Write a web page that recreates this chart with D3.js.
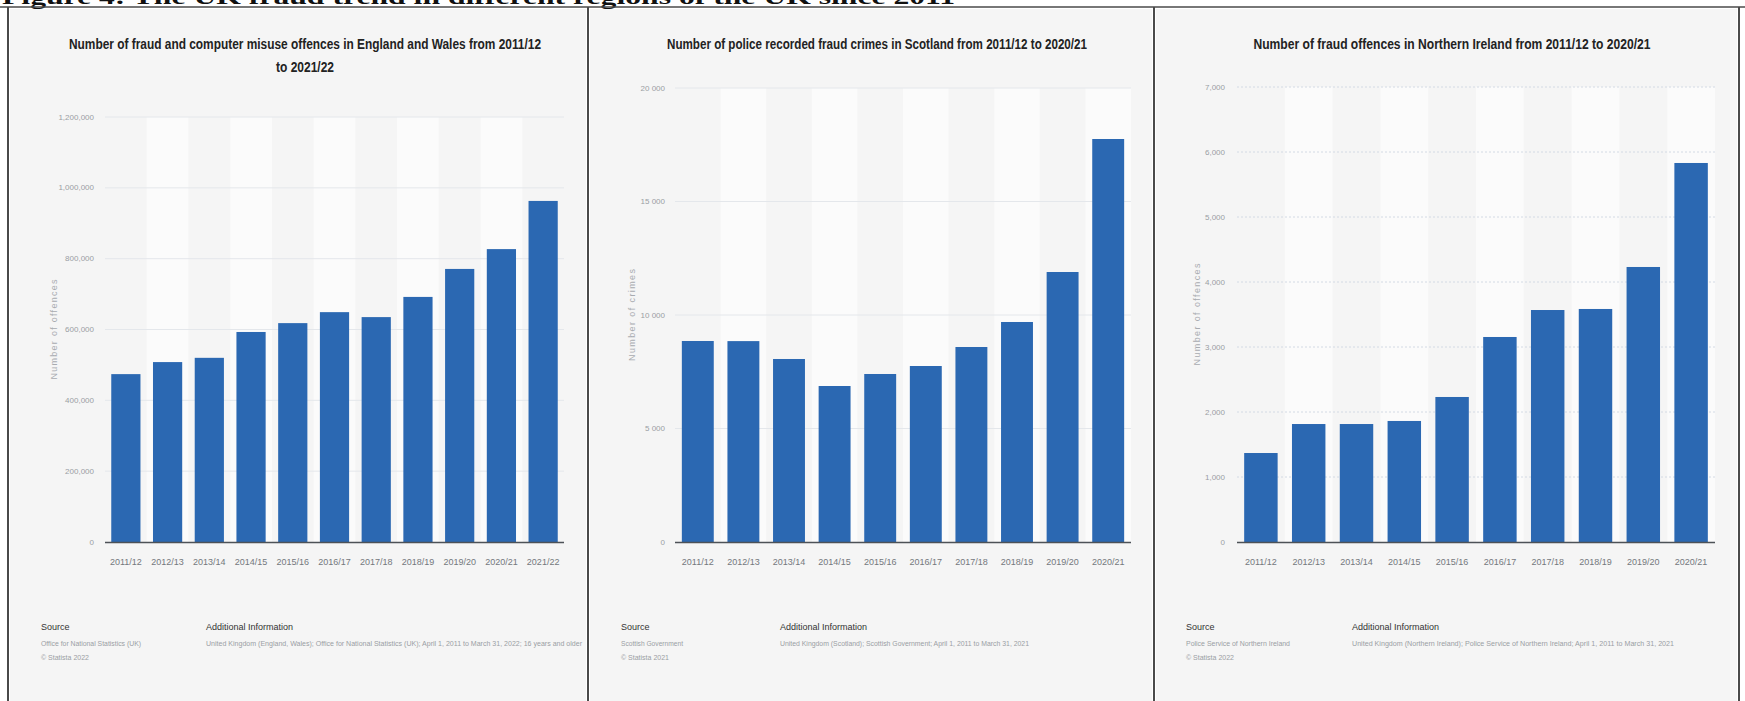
<!DOCTYPE html>
<html><head><meta charset="utf-8">
<script src="https://cdn.jsdelivr.net/npm/d3@7"></script>
<style>
html,body{margin:0;padding:0;background:#fff;overflow:hidden}
svg{display:block}
text{font-family:"Liberation Sans Narrow","Arial Narrow","Liberation Sans",Arial,sans-serif}
</style></head><body>
<svg id="c" width="1745" height="701"></svg>
<script>
// ---------- data ----------
const figureCaption = "Figure 4: The UK fraud trend in different regions of the UK since 2011";

const ewTitle = ["Number of fraud and computer misuse offences in England and Wales from 2011/12", "to 2021/22"];
const ewYears = ["2011/12","2012/13","2013/14","2014/15","2015/16","2016/17","2017/18","2018/19","2019/20","2020/21","2021/22"];
const ewOffences = [474000, 508000, 520000, 593000, 618000, 649000, 635000, 692000, 771000, 827000, 963000];
const ewTicks = [0, 200000, 400000, 600000, 800000, 1000000, 1200000];
const ewAxisTitle = "Number of offences";
const ewSource = ["Office for National Statistics (UK)", "© Statista 2022"];
const ewInfo = "United Kingdom (England, Wales); Office for National Statistics (UK); April 1, 2011 to March 31, 2022; 16 years and older";

const scTitle = ["Number of police recorded fraud crimes in Scotland from 2011/12 to 2020/21"];
const scYears = ["2011/12","2012/13","2013/14","2014/15","2015/16","2016/17","2017/18","2018/19","2019/20","2020/21"];
const scCrimes = [8855, 8850, 8062, 6872, 7401, 7753, 8590, 9692, 11894, 17753];
const scTicks = [0, 5000, 10000, 15000, 20000];
const scAxisTitle = "Number of crimes";
const scSource = ["Scottish Government", "© Statista 2021"];
const scInfo = "United Kingdom (Scotland); Scottish Government; April 1, 2011 to March 31, 2021";

const niTitle = ["Number of fraud offences in Northern Ireland from 2011/12 to 2020/21"];
const niYears = ["2011/12","2012/13","2013/14","2014/15","2015/16","2016/17","2017/18","2018/19","2019/20","2020/21"];
const niOffences = [1369, 1815, 1815, 1862, 2231, 3154, 3569, 3585, 4231, 5831];
const niTicks = [0, 1000, 2000, 3000, 4000, 5000, 6000, 7000];
const niAxisTitle = "Number of offences";
const niSource = ["Police Service of Northern Ireland", "© Statista 2022"];
const niInfo = "United Kingdom (Northern Ireland); Police Service of Northern Ireland; April 1, 2011 to March 31, 2021";

// ---------- drawing ----------
const svg = d3.select("#c");
const BLUE = "#2b68b2";
const commaFmt = d3.format(",");
const spaceFmt = d3.formatLocale({decimal: ".", thousands: " ", grouping: [3], currency: ["", ""]}).format(",");

// caption (cut off at the top, as in the source scan)
svg.append("text").attr("x", 2).attr("y", 4)
  .style("font-family", "'Liberation Serif','Times New Roman',serif")
  .style("font-weight", "bold").style("font-size", "20px").attr("fill", "#111")
  .attr("textLength", 953).attr("lengthAdjust", "spacingAndGlyphs")
  .text(figureCaption);

const panels = [
  {x0: 8, x1: 588, title: ewTitle, titleX: 305, titleW: [472, 58], cats: ewYears, vals: ewOffences, ticks: ewTicks,
   fmt: commaFmt, yTop: 117, px: [105, 564], labelRight: 94, yTitle: ewAxisTitle, yTitleX: 54, yTitleLen: 100,
   dotted: false, srcX: 41, infoX: 206, source: ewSource, info: ewInfo, infoW: 376, srcW: 100},
  {x0: 588, x1: 1154, title: scTitle, titleX: 877, titleW: [420], cats: scYears, vals: scCrimes, ticks: scTicks,
   fmt: spaceFmt, yTop: 88, px: [675, 1131], labelRight: 665, yTitle: scAxisTitle, yTitleX: 632, yTitleLen: 92,
   dotted: false, srcX: 621, infoX: 780, source: scSource, info: scInfo, infoW: 249, srcW: 62},
  {x0: 1154, x1: 1739, title: niTitle, titleX: 1452, titleW: [397], cats: niYears, vals: niOffences, ticks: niTicks,
   fmt: commaFmt, yTop: 87, px: [1237, 1715], labelRight: 1225, yTitle: niAxisTitle, yTitleX: 1197, yTitleLen: 102,
   dotted: true, srcX: 1186, infoX: 1352, source: niSource, info: niInfo, infoW: 322, srcW: 104}
];

const Y0 = 542;

panels.forEach(p => {
  const g = svg.append("g");
  g.append("rect").attr("x", p.x0 + 2).attr("y", 9).attr("width", p.x1 - p.x0 - 4).attr("height", 700)
    .attr("fill", "#f5f5f5");

  const x = d3.scaleBand().domain(p.cats).range(p.px).paddingInner(0.3).paddingOuter(0.15);
  const y = d3.scaleLinear().domain([0, p.ticks[p.ticks.length - 1]]).range([Y0, p.yTop]);
  const step = x.step(), bw = x.bandwidth();

  // alternating column bands
  g.selectAll("rect.band").data(p.cats.filter((d, i) => i % 2 === 1)).enter().append("rect")
    .attr("x", d => x(d) - (step - bw) / 2).attr("width", step)
    .attr("y", p.yTop).attr("height", Y0 - p.yTop).attr("fill", "#fbfbfb");

  // grid lines
  g.selectAll("line.grid").data(p.ticks.filter(t => t > 0)).enter().append("line")
    .attr("x1", p.px[0]).attr("x2", p.px[1]).attr("y1", d => y(d)).attr("y2", d => y(d))
    .attr("stroke", p.dotted ? "#d3dae4" : "#e4e7eb").attr("stroke-width", 1)
    .attr("stroke-dasharray", p.dotted ? "2,2" : null);

  // y tick labels
  g.selectAll("text.yt").data(p.ticks).enter().append("text")
    .attr("x", p.labelRight).attr("y", d => y(d)).attr("dy", "0.33em")
    .attr("text-anchor", "end").attr("fill", "#9a9ea4").style("font-size", "8px")
    .text(d => p.fmt(d));

  // y axis title
  g.append("text").attr("transform", `translate(${p.yTitleX},${(Y0 + p.yTop) / 2}) rotate(-90)`)
    .attr("text-anchor", "middle").attr("dy", "0.33em").attr("fill", "#a8abb0").style("font-size", "9px")
    .attr("textLength", p.yTitleLen).attr("lengthAdjust", "spacing")
    .text(p.yTitle);

  // bars
  g.selectAll("rect.bar").data(p.vals).enter().append("rect")
    .attr("x", (d, i) => x(p.cats[i])).attr("width", bw)
    .attr("y", d => y(d)).attr("height", d => Y0 - y(d)).attr("fill", BLUE);

  // x axis line
  g.append("line").attr("x1", p.px[0]).attr("x2", p.px[1]).attr("y1", Y0 + 0.5).attr("y2", Y0 + 0.5)
    .attr("stroke", "#4d5257").attr("stroke-width", 1.6);

  // x labels
  g.selectAll("text.xl").data(p.cats).enter().append("text")
    .attr("x", d => x(d) + bw / 2).attr("y", 565).attr("text-anchor", "middle")
    .attr("fill", "#74787d").style("font-size", "9px")
    .text(d => d);

  // title
  p.title.forEach((t, i) => {
    g.append("text").attr("x", p.titleX).attr("y", 49 + i * 23).attr("text-anchor", "middle")
      .attr("fill", "#222").style("font-size", "14px").style("font-weight", "bold")
      .attr("textLength", p.titleW[i]).attr("lengthAdjust", "spacingAndGlyphs")
      .text(t);
  });

  // footer
  g.append("text").attr("x", p.srcX).attr("y", 630).attr("fill", "#333").style("font-size", "9px").text("Source");
  p.source.forEach((s, i) => {
    g.append("text").attr("x", p.srcX).attr("y", 646 + i * 14).attr("fill", "#9a9ea4").style("font-size", "7px")
      .attr("textLength", i === 0 ? p.srcW : null).attr("lengthAdjust", "spacingAndGlyphs").text(s);
  });
  g.append("text").attr("x", p.infoX).attr("y", 630).attr("fill", "#333").style("font-size", "9px")
    .text("Additional Information");
  g.append("text").attr("x", p.infoX).attr("y", 646).attr("fill", "#9a9ea4").style("font-size", "7px")
    .attr("textLength", p.infoW).attr("lengthAdjust", "spacingAndGlyphs").text(p.info);
});

// table borders
svg.append("line").attr("x1", 0).attr("x2", 1745).attr("y1", 7).attr("y2", 7)
  .attr("stroke", "#4a4a4a").attr("stroke-width", 1.6);
[8, 588, 1154, 1739].forEach(bx => {
  svg.append("line").attr("x1", bx).attr("x2", bx).attr("y1", 7).attr("y2", 701)
    .attr("stroke", "#4a4a4a").attr("stroke-width", 2);
});
</script>
</body></html>
